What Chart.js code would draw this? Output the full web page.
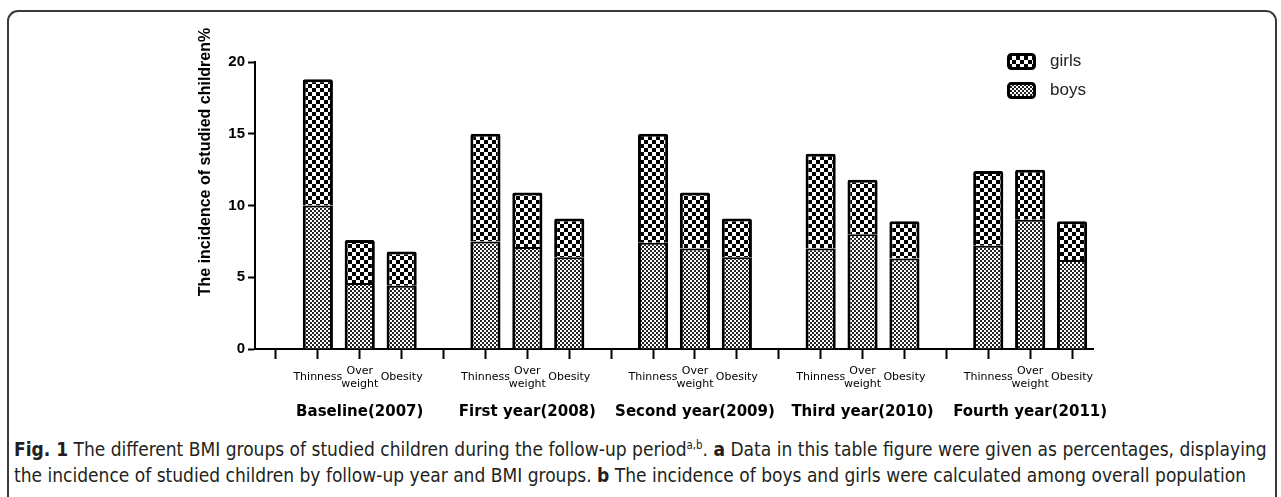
<!DOCTYPE html>
<html><head><meta charset="utf-8">
<script src="https://cdn.jsdelivr.net/npm/chart.js@4.4.0/dist/chart.umd.min.js"></script>
<style>
html,body{margin:0;padding:0;background:#fff;width:1281px;height:497px;overflow:hidden;position:relative}
#frame{position:absolute;left:7px;top:10px;width:1270px;height:540px;border:2px solid #3a3a3a;border-radius:11px;box-sizing:border-box}
#wrap{position:absolute;left:0;top:0;width:1281px;height:425px}
#cap{position:absolute;left:14px;top:436px;font-family:"Liberation Sans Narrow","DejaVu Sans Condensed",sans-serif;font-size:19px;line-height:26px;color:#231f20;white-space:nowrap}
#cap sup{font-size:0.6em;line-height:0;vertical-align:super}
</style></head><body>
<div id="frame"></div>
<div id="wrap"><canvas id="c"></canvas></div>
<div id="cap"><div><b>Fig. 1</b> The different BMI groups of studied children during the follow-up period<sup>a,b</sup>. <b>a</b> Data in this table figure were given as percentages, displaying</div><div>the incidence of studied children by follow-up year and BMI groups. <b>b</b> The incidence of boys and girls were calculated among overall population</div></div>
<script>
const groups = ['Baseline(2007)', 'First year(2008)', 'Second year(2009)', 'Third year(2010)', 'Fourth year(2011)'];
const bmiGroups = ['Thinness', ['Over', 'weight'], 'Obesity'];
const boys  = [10.0, 4.6, 4.4,  7.5, 7.1, 6.4,  7.4, 7.0, 6.4,  7.0, 8.0, 6.3,  7.2, 9.0, 6.2];
const girls = [ 8.8, 3.0, 2.4,  7.5, 3.8, 2.7,  7.6, 3.9, 2.7,  6.6, 3.8, 2.6,  5.2, 3.5, 2.7];
const yTicks = [0, 5, 10, 15, 20];
const yTitle = 'The incidence of studied children%';

// build category slots: an empty slot before each group
const labels = [], boysData = [], girlsData = [];
groups.forEach((g, gi) => {
  labels.push(''); boysData.push(null); girlsData.push(null);
  bmiGroups.forEach((b, bi) => {
    labels.push(b);
    boysData.push(boys[gi * 3 + bi]);
    girlsData.push(girls[gi * 3 + bi]);
  });
});

function makePattern(cell, dark) {
  const c = document.createElement('canvas');
  c.width = cell * 2; c.height = cell * 2;
  const x = c.getContext('2d');
  x.fillStyle = '#fff'; x.fillRect(0, 0, c.width, c.height);
  x.fillStyle = dark;
  x.fillRect(0, 0, cell, cell); x.fillRect(cell, cell, cell, cell);
  return x.createPattern(c, 'repeat');
}
const ctx = document.getElementById('c').getContext('2d');
const girlsPat = makePattern(4, '#000');
const boysPat = makePattern(2, '#222');

const groupLabelPlugin = {
  id: 'groupLabels',
  afterDraw(chart) {
    const xs = chart.scales.x, c = chart.ctx;
    c.save();
    c.font = 'bold 15px "DejaVu Sans", sans-serif';
    c.fillStyle = '#000'; c.textAlign = 'center'; c.textBaseline = 'middle';
    groups.forEach((g, i) => {
      const x = (xs.getPixelForValue(i * 4 + 1) + xs.getPixelForValue(i * 4 + 3)) / 2;
      c.fillText(g, x, 412);
    });
    // y title
    c.font = 'bold 16px "Liberation Sans", Arial, sans-serif';
    c.translate(206, 162);
    c.rotate(-Math.PI / 2);
    c.fillText(yTitle, 0, 0);
    c.restore();
  }
};

const legendPlugin = {
  id: 'customLegend',
  afterDraw(chart) {
    const c = chart.ctx;
    const items = chart.data.datasets.slice().reverse();
    c.save();
    items.forEach((ds, i) => {
      const x = 1007, y = 53 + i * 29, w = 29, h = 17;
      c.beginPath();
      c.roundRect(x + 1.5, y + 1.5, w - 3, h - 3, 3);
      c.fillStyle = ds.backgroundColor; c.fill();
      c.lineWidth = 3; c.strokeStyle = '#000'; c.stroke();
      c.font = '17px "Liberation Sans", Arial, sans-serif';
      c.fillStyle = '#222'; c.textAlign = 'left'; c.textBaseline = 'middle';
      c.fillText(ds.label, 1050, y + h / 2);
    });
    c.restore();
  }
};

new Chart(ctx, {
  type: 'bar',
  data: {
    labels: labels,
    datasets: [
      { label: 'boys', data: boysData, backgroundColor: boysPat, borderColor: '#000',
        borderWidth: { top: 2, left: 3, right: 3, bottom: 0 }, borderSkipped: 'start',
        barPercentage: 0.72, categoryPercentage: 1 },
      { label: 'girls', data: girlsData, backgroundColor: girlsPat, borderColor: '#000',
        borderWidth: { top: 3, left: 3, right: 3, bottom: 0 }, borderSkipped: 'start', borderRadius: { topLeft: 2, topRight: 2 },
        barPercentage: 0.72, categoryPercentage: 1 }
    ]
  },
  options: {
    responsive: true, maintainAspectRatio: false, animation: false,
    devicePixelRatio: 1,
    layout: { padding: { top: 62, right: 188, left: 0, bottom: 0 } },
    plugins: { legend: { display: false }, tooltip: { enabled: false } },
    scales: {
      x: {
        stacked: true, offset: true,
        afterFit(s) { s.height = 76; },
        grid: { offset: false, drawOnChartArea: false, tickLength: 10, tickWidth: 2, color: '#000' },
        border: { color: '#000', width: 2 },
        ticks: { autoSkip: false, maxRotation: 0, minRotation: 0, crossAlign: 'center', padding: 12,
          color: '#000', font: { family: '"DejaVu Sans", sans-serif', size: 11, lineHeight: 1.15 } }
      },
      y: {
        stacked: true, min: 0, max: 20,
        afterFit(s) { s.width = 255; },
        afterBuildTicks(s) { s.ticks = yTicks.map(v => ({ value: v })); },
        grid: { drawOnChartArea: false, tickLength: 7, tickWidth: 2, color: '#000' },
        border: { color: '#000', width: 2 },
        ticks: { color: '#000', padding: 3, font: { family: '"Liberation Sans", Arial, sans-serif', size: 15, weight: 'bold' } }
      }
    }
  },
  plugins: [groupLabelPlugin, legendPlugin]
});
</script>
</body></html>
